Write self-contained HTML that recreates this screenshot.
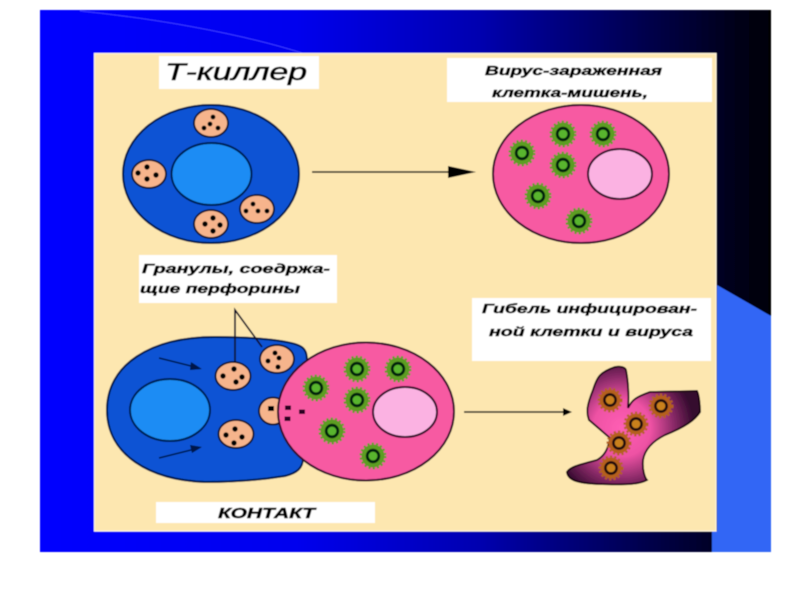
<!DOCTYPE html>
<html>
<head>
<meta charset="utf-8">
<style>
html,body{margin:0;padding:0;background:#fff;width:800px;height:600px;overflow:hidden}
svg{display:block}
text{font-family:"Liberation Sans","DejaVu Sans",sans-serif;font-style:italic;font-weight:bold;fill:#000;stroke:#000;stroke-width:.45}
</style>
</head>
<body>
<svg width="800" height="600" viewBox="0 0 800 600" xmlns="http://www.w3.org/2000/svg">
<defs>
<linearGradient id="bg" x1="0" x2="1" y1="0" y2="0">
<stop offset="0" stop-color="#0000ff"/>
<stop offset="0.35" stop-color="#0000ee"/>
<stop offset="0.6" stop-color="#0000b0"/>
<stop offset="0.8" stop-color="#000058"/>
<stop offset="1" stop-color="#000005"/>
</linearGradient>
<radialGradient id="dead" gradientUnits="userSpaceOnUse" cx="622" cy="428" r="72">
<stop offset="0" stop-color="#ff5fb4"/>
<stop offset="0.4" stop-color="#ee52a4"/>
<stop offset="0.72" stop-color="#8a2a68"/>
<stop offset="1" stop-color="#340a2e"/>
</radialGradient>
<filter id="soft" x="-2%" y="-2%" width="104%" height="104%"><feGaussianBlur stdDeviation="0.4"/></filter>
<g id="virus">
<circle r="11.5" fill="#5c9e22"/>
<circle r="12.5" fill="none" stroke="#5c9e22" stroke-width="2" stroke-dasharray="2.2 2.2"/>
<circle r="5.8" fill="#58b52e" stroke="#06200e" stroke-width="2.8"/>
</g>
<g id="dvirus">
<circle r="10.5" fill="#b5601c"/>
<circle r="11.5" fill="none" stroke="#b5601c" stroke-width="2" stroke-dasharray="2.2 2.2"/>
<circle r="5.6" fill="#c9801f" stroke="#200810" stroke-width="2.6"/>
</g>
</defs>
<g filter="url(#soft)">
<rect x="40" y="10" width="731" height="542" fill="url(#bg)"/>
<polygon points="717,285 771,316 771,552 712,552 712,531 717,531" fill="#3366f5"/>
<path d="M80,11 C150,18 235,32 302,53" fill="none" stroke="#3a3aff" stroke-width="1"/>

<rect x="94.500" y="53.500" width="621.500" height="477.500" fill="#fde7b0" stroke="#fff6e0" stroke-width="1.2"/>

<!-- labels -->
<rect x="159" y="56" width="160" height="33" fill="#fff"/>
<rect x="447" y="58" width="265" height="44" fill="#fff"/>
<rect x="139" y="255" width="198" height="48" fill="#fff"/>
<rect x="472" y="298" width="239" height="63" fill="#fff"/>
<rect x="156" y="502" width="219" height="21" fill="#fff"/>

<text x="165" y="80" font-size="24" textLength="142" lengthAdjust="spacingAndGlyphs" style="font-weight:normal;stroke-width:.6">Т-киллер</text>
<text x="485" y="75" font-size="12.5" textLength="177" lengthAdjust="spacingAndGlyphs">Вирус-зараженная</text>
<text x="492" y="97" font-size="12.5" textLength="156" lengthAdjust="spacingAndGlyphs">клетка-мишень,</text>
<text x="142" y="273" font-size="12.5" textLength="188" lengthAdjust="spacingAndGlyphs">Гранулы, соедржа-</text>
<text x="140" y="293" font-size="12.5" textLength="160" lengthAdjust="spacingAndGlyphs">щие перфорины</text>
<text x="482" y="313" font-size="13" textLength="215" lengthAdjust="spacingAndGlyphs">Гибель инфицирован-</text>
<text x="489" y="336" font-size="13" textLength="204" lengthAdjust="spacingAndGlyphs">ной клетки и вируса</text>
<text x="218" y="518" font-size="14.5" textLength="97" lengthAdjust="spacingAndGlyphs">КОНТАКТ</text>

<!-- T killer -->
<ellipse cx="211" cy="174" rx="88" ry="69" fill="#0853d4" stroke="#051848" stroke-width="2"/>
<ellipse cx="211.500" cy="174" rx="40" ry="31" fill="#1a8cf4" stroke="#051c50" stroke-width="2"/>
<g fill="#f6b48c" stroke="#0c0c28" stroke-width="1.8">
<ellipse cx="211" cy="123" rx="17" ry="14"/>
<ellipse cx="149" cy="174" rx="17" ry="14"/>
<ellipse cx="257" cy="209" rx="17" ry="14"/>
<ellipse cx="211" cy="224" rx="17" ry="14"/>
</g>
<g fill="#000">
<circle cx="213" cy="117" r="2.400"/><circle cx="210" cy="124" r="2.400"/><circle cx="204" cy="128" r="2.400"/><circle cx="218" cy="128" r="2.400"/>
<circle cx="147" cy="167" r="2.700"/><circle cx="138" cy="173" r="2.700"/><circle cx="156" cy="175" r="2.700"/><circle cx="147" cy="179" r="2.700"/>
<circle cx="253" cy="204" r="2.400"/><circle cx="246" cy="211" r="2.400"/><circle cx="258" cy="211" r="2.400"/><circle cx="267" cy="211" r="2.400"/>
<circle cx="213" cy="218" r="2.700"/><circle cx="205" cy="224" r="2.700"/><circle cx="220" cy="225" r="2.700"/><circle cx="213" cy="231" r="2.700"/>
</g>

<!-- top arrow -->
<line x1="312" y1="172" x2="450" y2="172" stroke="#111" stroke-width="1.500"/>
<polygon points="448,166 476,172 448,178" fill="#000"/>

<!-- target cell -->
<ellipse cx="581" cy="174" rx="88" ry="69" fill="#f75aa2" stroke="#2c0824" stroke-width="2"/>
<ellipse cx="620" cy="174" rx="32" ry="25" fill="#fbb2e2" stroke="#2c0824" stroke-width="2"/>
<use href="#virus" transform="translate(563 134)"/>
<use href="#virus" transform="translate(603 134)"/>
<use href="#virus" transform="translate(522 153)"/>
<use href="#virus" transform="translate(563 165)"/>
<use href="#virus" transform="translate(538 196)"/>
<use href="#virus" transform="translate(579 221)"/>

<!-- contact: killer -->
<path d="M107,410 C107,365 150,337 215,337 C250,337 288,340 300,346 C306,349 307,354 307,362 L307,440 L303,458 C303,468 297,473 285,476 C260,480 230,482 205,482 C150,480 107,455 107,410 Z" fill="#0853d4" stroke="#051848" stroke-width="2"/>
<ellipse cx="170" cy="410" rx="40" ry="31" fill="#1a8cf4" stroke="#051c50" stroke-width="2"/>
<line x1="159" y1="358" x2="195" y2="367" stroke="#051848" stroke-width="1.600"/>
<polygon points="191,362 202,369 190,370" fill="#051848"/>
<line x1="159" y1="458" x2="195" y2="449" stroke="#051848" stroke-width="1.600"/>
<polygon points="190,445 202,447 192,453" fill="#051848"/>
<g fill="#f6b48c" stroke="#0c0c28" stroke-width="1.800">
<ellipse cx="233" cy="376" rx="17.500" ry="14"/>
<ellipse cx="277" cy="359" rx="17" ry="14"/>
<ellipse cx="236" cy="434" rx="17.500" ry="14"/>
<ellipse cx="273" cy="411" rx="14" ry="13.500"/>
</g>
<g fill="#000">
<circle cx="234" cy="369" r="2.700"/><circle cx="223" cy="376" r="2.700"/><circle cx="242" cy="377" r="2.700"/><circle cx="236" cy="382" r="2.700"/>
<circle cx="275" cy="353" r="2.500"/><circle cx="279" cy="358" r="2.500"/><circle cx="268" cy="361" r="2.500"/><circle cx="278" cy="367" r="2.500"/>
<circle cx="235" cy="429" r="2.700"/><circle cx="226" cy="435" r="2.700"/><circle cx="242" cy="437" r="2.700"/><circle cx="234" cy="443" r="2.700"/>
<rect x="268" y="406" width="6" height="5"/>
</g>
<polyline points="235,362 235,310 262,347" fill="none" stroke="#0c0c28" stroke-width="1.700"/>

<!-- contact: target -->
<ellipse cx="366" cy="411.500" rx="88" ry="69" fill="#f75aa2" stroke="#2c0824" stroke-width="2"/>
<ellipse cx="405" cy="412" rx="32" ry="25" fill="#fbb2e2" stroke="#2c0824" stroke-width="2"/>
<use href="#virus" transform="translate(357 369)"/>
<use href="#virus" transform="translate(398 369)"/>
<use href="#virus" transform="translate(316 388)"/>
<use href="#virus" transform="translate(357 400)"/>
<use href="#virus" transform="translate(332 431)"/>
<use href="#virus" transform="translate(373 456)"/>
<g fill="#2c0420">
<rect x="285" y="405.500" width="6" height="4.500"/>
<rect x="299" y="409.500" width="6" height="4.500"/>
<rect x="284.500" y="416.500" width="6" height="4.500"/>
</g>

<!-- bottom arrow -->
<line x1="464" y1="412" x2="566" y2="412" stroke="#111" stroke-width="1.500"/>
<polygon points="563,408 572,412 563,416" fill="#000"/>

<!-- dead cell -->
<path d="M615,367 C620,366 625,367 626,370 C628,380 629,395 628,408 C632,400 636,397 650,392 L697,391 C699,395 700,405 700,412 C695,420 685,427 665,435 C655,440 645,448 643,460 C642,470 645,478 647,480 C640,484 630,485 597,484 C580,483 568,481 567,472 C570,467 578,465 597,460 C604,456 608,450 610,438 C603,432 595,425 589,420 C586,412 587,405 593,390 C597,377 600,372 615,367 Z" fill="url(#dead)" stroke="#12040e" stroke-width="1.800"/>
<use href="#dvirus" transform="translate(610 400)"/>
<use href="#dvirus" transform="translate(661 406)"/>
<use href="#dvirus" transform="translate(636 424)"/>
<use href="#dvirus" transform="translate(619 443)"/>
<use href="#dvirus" transform="translate(611 468)"/>
</g>
</svg>
</body>
</html>
